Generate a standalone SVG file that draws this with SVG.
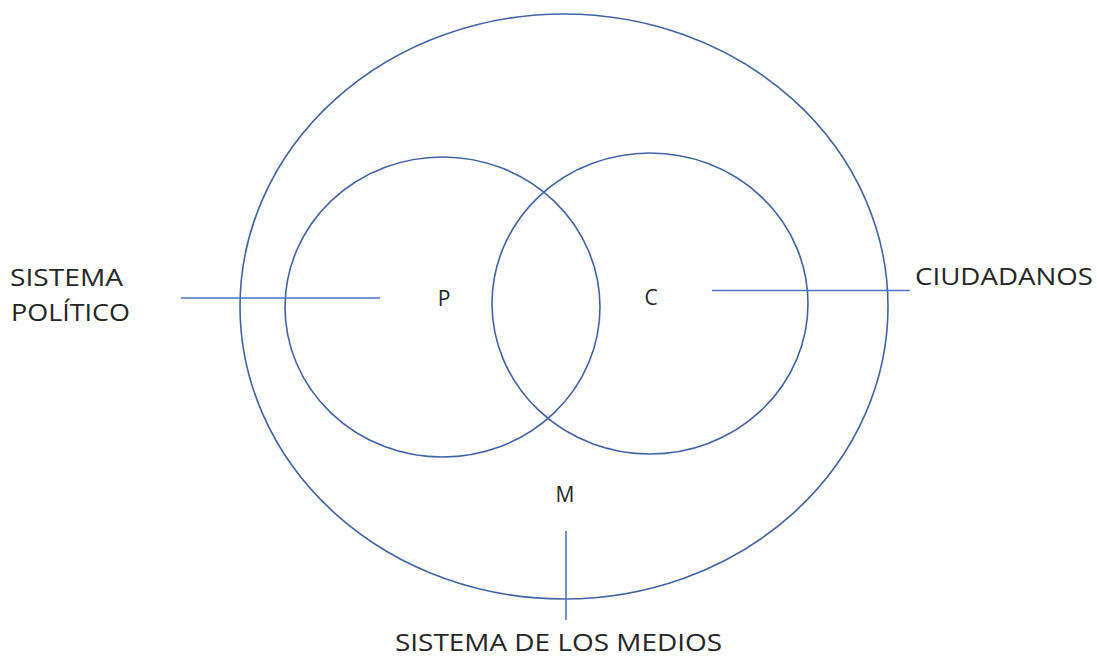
<svg xmlns="http://www.w3.org/2000/svg" width="1097" height="656" viewBox="0 0 1097 656">
<style>
.ring{fill:none;stroke:#3F63A6;stroke-width:1.6}
.conn{stroke:#4A76C8;stroke-width:1.6;fill:none}
.lbl{font-family:"Open Sans","Liberation Sans",Arial,sans-serif;font-size:24px;fill:#262626}
.ltr{font-family:"Open Sans","Liberation Sans",Arial,sans-serif;font-size:21px;fill:#262626;text-anchor:middle}
</style>
<rect width="1097" height="656" fill="#ffffff"/>
<g id="node-M">
<ellipse class="ring" cx="564" cy="306.5" rx="324" ry="292.5"/>
<text class="ltr" x="565" y="502">M</text>
</g>
<g id="node-P">
<ellipse class="ring" cx="442.5" cy="307" rx="157.5" ry="150"/>
<text class="ltr" x="444" y="306">P</text>
</g>
<g id="node-C">
<ellipse class="ring" cx="650" cy="303.5" rx="158" ry="150.5"/>
<text class="ltr" x="651" y="305">C</text>
</g>
<g id="connectors">
<line class="conn" x1="181" y1="298" x2="380" y2="298"/>
<line class="conn" x1="712" y1="290.5" x2="910" y2="290.5"/>
<line class="conn" x1="566" y1="531" x2="566" y2="620"/>
</g>
<g id="labels">
<text class="lbl" x="10" y="286" textLength="113" lengthAdjust="spacingAndGlyphs">SISTEMA</text>
<text class="lbl" x="11" y="321" textLength="119" lengthAdjust="spacingAndGlyphs">POLÍTICO</text>
<text class="lbl" x="915" y="285" textLength="178" lengthAdjust="spacingAndGlyphs">CIUDADANOS</text>
<text class="lbl" x="395" y="651" textLength="327" lengthAdjust="spacingAndGlyphs">SISTEMA DE LOS MEDIOS</text>
</g>
</svg>
